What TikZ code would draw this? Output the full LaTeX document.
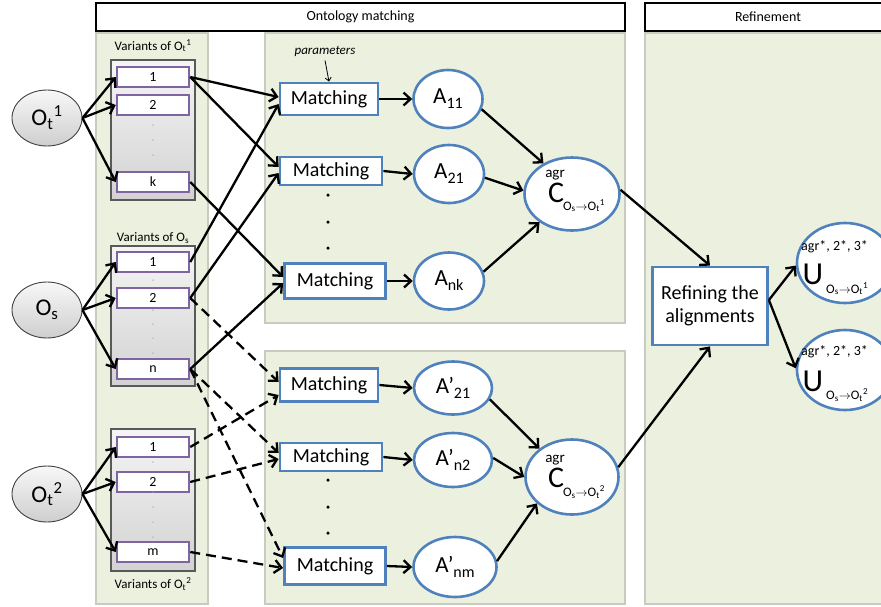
\documentclass[tikz,border=0pt]{standalone}
\usepackage{fontspec}
\setmainfont{Carlito}
\usetikzlibrary{arrows.meta,shapes.geometric,calc}
\definecolor{pgreen}{HTML}{EBF1DE}
\definecolor{pborder}{HTML}{C8CCC0}
\definecolor{mblue}{HTML}{4F81BD}
\definecolor{vpurple}{HTML}{8064A2}
\newcommand{\fsz}[1]{\fontsize{#1}{#1}\selectfont}
\begin{document}
\begin{tikzpicture}[x=1pt,y=-1pt,
  panel/.style={draw=pborder,line width=2.2pt,fill=pgreen},
  header/.style={draw=black,line width=2.8pt,fill=white},
  onode/.style={ellipse,draw=black!75,line width=0.9pt,top color=gray!6,bottom color=gray!38,minimum width=70,minimum height=56,inner sep=0,font=\fsz{24}},
  vbox/.style={rectangle,draw=black!65,line width=1.4pt,top color=gray!8,bottom color=gray!35,minimum width=84,inner sep=0},
  item/.style={rectangle,draw=vpurple,line width=2.5pt,fill=white,minimum width=72,minimum height=20,inner sep=0,font=\fsz{14}},
  vlabel/.style={font=\fsz{13},inner sep=0},
  matchbox/.style={rectangle,draw=mblue,line width=2.8pt,fill=white,minimum height=32,inner sep=0,font=\fsz{20}},
  anode/.style={ellipse,draw=mblue,line width=2.6pt,fill=white,minimum height=58,inner sep=0,font=\fsz{23}},
  cnode/.style={ellipse,draw=mblue,line width=2.6pt,fill=white,minimum width=95,minimum height=73,inner sep=0},
  conn/.style={line width=2.3pt,-{Straight Barb[length=7pt,width=13pt]}},
  dconn/.style={conn,dash pattern=on 10pt off 6pt},
  gdot/.style={circle,fill=gray!70,inner sep=0,minimum size=1.5pt},
  bdot/.style={circle,fill=black,inner sep=0,minimum size=3.5pt},
  subt/.style={font=\fsz{13},inner sep=0},
  supt/.style={font=\fsz{15},inner sep=0}
]
\useasboundingbox (0,0) rectangle (881,606);
\clip (0,0) rectangle (881,606);

% panels and headers
\draw[panel] (96,33) rectangle (208,604);
\draw[panel] (265,33) rectangle (625,323);
\draw[panel] (265,351) rectangle (625,604);
\draw[panel] (645,33) rectangle (895,604);
\node[header,minimum width=529,minimum height=28,inner sep=0,font=\fsz{14}] (hOM) at (360.5,17) {Ontology matching};
\node[header,minimum width=250,minimum height=28,inner sep=0] (hRF) at (770,17) {};
\node[font=\fsz{14}] (hRFt) at (768,17) {Refinement};

% variant groups
\node[vbox,minimum height=140] (vb1) at (153,130) {};
\node[vbox,minimum height=140] (vb2) at (153,316) {};
\node[vbox,minimum height=142] (vb3) at (153,500) {};
\node[vlabel] (vl1) at (153,46) {Variants of O\textsubscript{t}\textsuperscript{1}};
\node[vlabel] (vl2) at (153,238) {Variants of O\textsubscript{s}};
\node[vlabel] (vl3) at (153,584) {Variants of O\textsubscript{t}\textsuperscript{2}};

\node[item] (t1a) at (153,77) {1};
\node[item] (t1b) at (153,105) {2};
\node[item] (t1k) at (153,182) {k};
\node[item] (sa) at (153,262) {1};
\node[item] (sb) at (153,298) {2};
\node[item] (sn) at (153,369) {n};
\node[item] (t2a) at (153,447) {1};
\node[item] (t2b) at (153,482) {2};
\node[item] (t2m) at (153,552) {m};

\foreach \yy [count=\i] in {125,140,155} \node[gdot] (g1\i) at (153,\yy) {};
\foreach \yy [count=\i] in {280,310,324,338,353} \node[gdot] (g2\i) at (153,\yy) {};
\foreach \yy [count=\i] in {462,492,507,522,537} \node[gdot] (g3\i) at (153,\yy) {};

% source ellipses
\node[onode] (Ot1) at (47,118) {O\textsubscript{t}\textsuperscript{1}};
\node[onode] (Os) at (47,310) {O\textsubscript{s}};
\node[onode] (Ot2) at (47,494) {O\textsubscript{t}\textsuperscript{2}};

\foreach \tgt in {t1a,t1b,t1k} \draw[conn] (Ot1.east) -- (\tgt.west);
\foreach \tgt in {sa,sb,sn} \draw[conn] (Os.east) -- (\tgt.west);
\foreach \tgt in {t2a,t2b,t2m} \draw[conn] (Ot2.east) -- (\tgt.west);

% matching boxes
\node[matchbox,minimum width=98] (M1) at (329,99) {Matching};
\node[matchbox,minimum width=102,minimum height=28] (M2) at (331,171) {Matching};
\node[matchbox,minimum width=101,minimum height=35] (M3) at (335,281) {Matching};
\node[matchbox,minimum width=98,minimum height=33] (M4) at (329,385) {Matching};
\node[matchbox,minimum width=102,minimum height=28] (M5) at (331,457) {Matching};
\node[matchbox,minimum width=101,minimum height=37] (M6) at (335,566) {Matching};
\foreach \yy [count=\i] in {195,222,248} \node[bdot] (d1\i) at (328,\yy) {};
\foreach \yy [count=\i] in {480,507,533} \node[bdot] (d2\i) at (328,\yy) {};

\node[font=\fsz{13}\itshape,inner sep=0] (par) at (325,51) {parameters};
\draw[line width=0.8pt,-{Straight Barb[length=3.5pt,width=6pt]}] (par.south) ++(0,4) -- (M1.north);

% inputs to matching
\draw[conn] (t1a.east) -- ($(M1.west)+(0,-2)$);
\draw[conn] (sa.east) -- ($(M1.west)+(0,5)$);
\draw[conn] (t1a.east) -- ($(M2.west)+(0,-4)$);
\draw[conn] (sb.east) -- ($(M2.west)+(0,2)$);
\draw[conn] (t1k.east) -- ($(M3.west)+(0,-4)$);
\draw[conn] (sn.east) -- ($(M3.west)+(0,2)$);

\draw[dconn] (sb.east) -- ($(M4.west)+(0,-3)$);
\draw[dconn] (t2a.east) -- ($(M4.west)+(0,10)$);
\draw[dconn] (sn.east) -- ($(M5.west)+(0,-4)$);
\draw[dconn] (t2b.east) -- ($(M5.west)+(0,2)$);
\draw[dconn] (sn.east) -- ($(M6.west)+(0,-8)$);
\draw[dconn] (t2m.east) -- ($(M6.west)+(0,2)$);

% alignments
\node[anode,minimum width=69] (A11) at (448,99) {A\raisebox{-5pt}{\fsz{16}11}};
\node[anode,minimum width=70] (A21) at (449,174) {A\raisebox{-5pt}{\fsz{16}21}};
\node[anode,minimum width=70,minimum height=57] (Ank) at (449,281) {A\raisebox{-5pt}{\fsz{16}nk}};
\node[anode,minimum width=78,minimum height=53] (B21) at (453,388) {A’\raisebox{-5pt}{\fsz{16}21}};
\node[anode,minimum width=78,minimum height=54] (Bn2) at (453,460) {A’\raisebox{-5pt}{\fsz{16}n2}};
\node[anode,minimum width=83,minimum height=60] (Bnm) at (455,567) {A’\raisebox{-5pt}{\fsz{16}nm}};

\draw[conn] (M1.east) -- (A11.west);
\draw[conn] (M2.east) -- (A21.west);
\draw[conn] (M3.east) -- (Ank.west);
\draw[conn] (M4.east) -- (B21.west);
\draw[conn] (M5.east) -- (Bn2.west);
\draw[conn] (M6.east) -- (Bnm.west);

% consensus
\node[cnode] (C1) at (572,194) {};
\node[supt] (C1a) at (555,175) {agr};
\node[font=\fsz{30},inner sep=0] (C1c) at (556,193) {C};
\node[subt] (C1s) at (584,206) {O\textsubscript{s}$\to$O\textsubscript{t}\textsuperscript{1}};
\node[cnode,minimum width=93,minimum height=75] (C2) at (572,477) {};
\node[supt] (C2a) at (555,460) {agr};
\node[font=\fsz{30},inner sep=0] (C2c) at (556,478) {C};
\node[subt] (C2s) at (584,492) {O\textsubscript{s}$\to$O\textsubscript{t}\textsuperscript{2}};

\draw[conn] (A11.-17) -- (C1.133);
\draw[conn] (A21.-6) -- (C1.176);
\draw[conn] (Ank.15) -- (C1.221);
\draw[conn] (B21.-17) -- (C2.139);
\draw[conn] (Bn2.3) -- (C2.180);
\draw[conn] (Bnm.8) -- (C2.217);

% refinement
\node[rectangle,draw=mblue,line width=2.8pt,fill=white,minimum width=115,minimum height=78,inner sep=0,align=center,font=\fsz{20}] (Ref) at (710,306) {Refining the\\[3pt]alignments};
\draw[conn] (C1.5) -- (Ref.north);
\draw[conn] (C2.12) -- (Ref.south);

\node[cnode,minimum width=96,minimum height=80] (U1) at (845,263) {};
\node[font=\fsz{14},inner sep=0,anchor=west] (U1a) at (801,247) {agr*, 2*, 3*};
\node[font=\fsz{32},inner sep=0] (U1c) at (813,274) {U};
\node[subt,anchor=west] (U1s) at (826,289) {O\textsubscript{s}$\to$O\textsubscript{t}\textsuperscript{1}};
\node[cnode,minimum width=96,minimum height=80] (U2) at (845,370) {};
\node[font=\fsz{14},inner sep=0,anchor=west] (U2a) at (801,352) {agr*, 2*, 3*};
\node[font=\fsz{32},inner sep=0] (U2c) at (813,381) {U};
\node[subt,anchor=west] (U2s) at (826,395) {O\textsubscript{s}$\to$O\textsubscript{t}\textsuperscript{2}};

\draw[conn] ($(Ref.east)+(0,-6)$) -- (U1.183);
\draw[conn] ($(Ref.east)+(0,-6)$) -- (U2.178);
\end{tikzpicture}
\end{document}
